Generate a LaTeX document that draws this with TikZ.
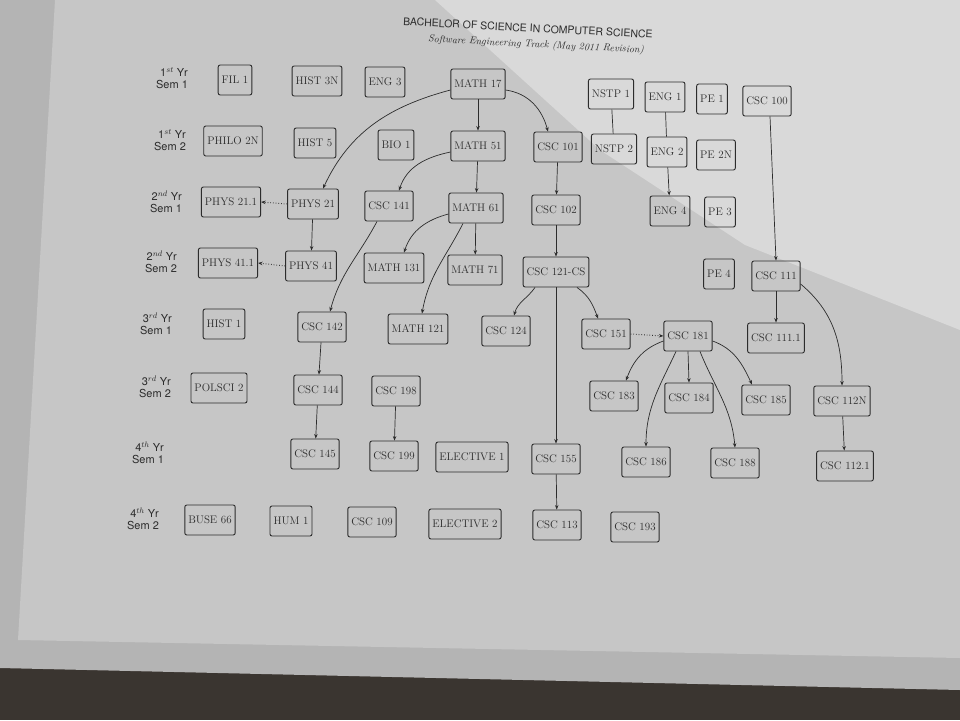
\documentclass[tikz,border=0pt]{standalone}
\usepackage{fontspec}
\newfontfamily\headfont{TeX Gyre Heros}
\usetikzlibrary{arrows.meta}
\definecolor{ink}{HTML}{2C2C2C}
\definecolor{paper}{HTML}{C6C6C6}
\definecolor{paperlit}{HTML}{D9D9D9}
\definecolor{sheet}{HTML}{B4B4B4}
\definecolor{table}{HTML}{3A3530}
\begin{document}
\begin{tikzpicture}[x=1pt,y=1pt,
  course/.style={draw=ink, line width=0.9pt, rounded corners=2pt, text=ink,
    font=\fontsize{11}{13}\selectfont, inner xsep=3.5pt, inner ysep=0pt, minimum height=30pt},
  lab/.style={font=\headfont\fontsize{11}{11.5}\selectfont, align=right, text=ink},
  pre/.style={draw=ink, line width=0.7pt, -{Stealth[length=4.5pt,width=3.5pt]}},
  coreq/.style={pre, dotted, line width=1pt},
  plainlink/.style={draw=ink, line width=0.7pt}]
% background
\useasboundingbox (0,0) rectangle (960,-720);
\fill[table] (0,0) rectangle (960,-720);
\fill[sheet] (0,0) -- (960,0) -- (960,-690) -- (0,-668) -- cycle;
\fill[paper] (55,0) -- (960,0) -- (960,-658) -- (18,-640) -- cycle;
\fill[paperlit] (435,0) -- (960,0) -- (960,-330) -- (745,-245) -- (600,-150) -- cycle;

% title
\node[font=\headfont\fontsize{10.5}{12}\selectfont, text=ink, rotate=-3] (title) at (528,-28)
  {BACHELOR OF SCIENCE IN COMPUTER SCIENCE};
\node[font=\itshape\fontsize{10}{12}\selectfont, text=ink, rotate=-3] (subtitle) at (536,-45)
  {Software Engineering Track (May 2011 Revision)};

% row labels
\node[lab] (r1) at (172,-78)  {1$^{st}$ Yr\\Sem 1};
\node[lab] (r2) at (170,-140) {1$^{st}$ Yr\\Sem 2};
\node[lab] (r3) at (166,-202) {2$^{nd}$ Yr\\Sem 1};
\node[lab] (r4) at (161,-262) {2$^{nd}$ Yr\\Sem 2};
\node[lab] (r5) at (156,-324) {3$^{rd}$ Yr\\Sem 1};
\node[lab] (r6) at (155,-387) {3$^{rd}$ Yr\\Sem 2};
\node[lab] (r7) at (148,-453) {4$^{th}$ Yr\\Sem 1};
\node[lab] (r8) at (143,-519) {4$^{th}$ Yr\\Sem 2};

% row 1
\node[course] (fil1)   at (235,-80)  {FIL 1};
\node[course] (hist3n) at (317,-81)  {HIST 3N};
\node[course] (eng3)   at (385,-82)  {ENG 3};
\node[course] (m17)    at (478,-84)  {MATH 17};
\node[course] (nstp1)  at (611,-94)  {NSTP 1};
\node[course] (eng1)   at (665,-97)  {ENG 1};
\node[course] (pe1)    at (712,-99)  {PE 1};
\node[course] (c100)   at (767,-101) {CSC 100};
% row 2
\node[course] (philo)  at (233,-141) {PHILO 2N};
\node[course] (hist5)  at (315,-143) {HIST 5};
\node[course] (bio1)   at (396,-145) {BIO 1};
\node[course] (m51)    at (478,-146) {MATH 51};
\node[course] (c101)   at (558,-147) {CSC 101};
\node[course] (nstp2)  at (614,-149) {NSTP 2};
\node[course] (eng2)   at (667,-152) {ENG 2};
\node[course] (pe2n)   at (716,-155) {PE 2N};
% row 3
\node[course] (p211)   at (231,-202) {PHYS 21.1};
\node[course] (p21)    at (313,-204) {PHYS 21};
\node[course] (c141)   at (389,-206) {CSC 141};
\node[course] (m61)    at (476,-208) {MATH 61};
\node[course] (c102)   at (556,-210) {CSC 102};
\node[course] (eng4)   at (670,-211) {ENG 4};
\node[course] (pe3)    at (720,-212) {PE 3};
% row 4
\node[course] (p411)   at (228,-263) {PHYS 41.1};
\node[course] (p41)    at (311,-266) {PHYS 41};
\node[course] (m131)   at (394,-268) {MATH 131};
\node[course] (m71)    at (475,-270) {MATH 71};
\node[course] (c121)   at (556,-272) {CSC 121-CS};
\node[course] (pe4)    at (719,-274) {PE 4};
\node[course] (c111)   at (776,-276) {CSC 111};
% row 5
\node[course] (hist1)  at (224,-324) {HIST 1};
\node[course] (c142)   at (322,-327) {CSC 142};
\node[course] (m121)   at (418,-329) {MATH 121};
\node[course] (c124)   at (506,-331) {CSC 124};
\node[course] (c151)   at (606,-334) {CSC 151};
\node[course] (c181)   at (688,-336) {CSC 181};
\node[course] (c1111)  at (776,-338) {CSC 111.1};
% row 6
\node[course] (polsci) at (219,-388) {POLSCI 2};
\node[course] (c144)   at (318,-390) {CSC 144};
\node[course] (c198)   at (396,-391) {CSC 198};
\node[course] (c183)   at (614,-396) {CSC 183};
\node[course] (c184)   at (689,-398) {CSC 184};
\node[course] (c185)   at (766,-400) {CSC 185};
\node[course] (c112n)  at (842,-401) {CSC 112N};
% row 7
\node[course] (c145)   at (315,-454) {CSC 145};
\node[course] (c199)   at (394,-456) {CSC 199};
\node[course] (el1)    at (472,-457) {ELECTIVE 1};
\node[course] (c155)   at (556,-459) {CSC 155};
\node[course] (c186)   at (646,-462) {CSC 186};
\node[course] (c188)   at (735,-463) {CSC 188};
\node[course] (c1121)  at (845,-466) {CSC 112.1};
% row 8
\node[course] (buse)   at (210,-520) {BUSE 66};
\node[course] (hum1)   at (291,-521) {HUM 1};
\node[course] (c109)   at (372,-522) {CSC 109};
\node[course] (el2)    at (465,-524) {ELECTIVE 2};
\node[course] (c113)   at (557,-525) {CSC 113};
\node[course] (c193)   at (635,-527) {CSC 193};

% math chain
\draw[pre] (m17) -- (m51);
\draw[pre] (m51) -- (m61);
\draw[pre] (m61) -- (m71);
\draw[pre] ([yshift=-6pt]m17.west) to[out=195,in=65] ([xshift=10pt]p21.north);
\draw[pre] ([yshift=-6pt]m17.east) to[out=-8,in=105] ([xshift=-10pt]c101.north);
\draw[pre] ([yshift=-6pt]m51.west) to[out=192,in=72] ([xshift=10pt]c141.north);
\draw[pre] ([yshift=-6pt]m61.west) to[out=195,in=72] ([xshift=10pt]m131.north);
\draw[pre] ([xshift=-13pt]m61.south) to[out=243,in=80] ([xshift=4pt]m121.north);
\draw[pre] ([xshift=-12pt]c141.south) to[out=242,in=75] ([xshift=8pt]c142.north);
% physics
\draw[pre] (p21) -- (p41);
\draw[coreq] (p21.west) -- (p211.east);
\draw[coreq] (p41.west) -- (p411.east);
% CSC main chain
\draw[pre] (c101) -- (c102);
\draw[pre] (c102) -- (c121);
\draw[pre] (c121) -- (c155);
\draw[pre] (c155) -- (c113);
\draw[pre] ([xshift=-21pt]c121.south) to[out=235,in=75] ([xshift=8pt]c124.north);
\draw[pre] ([xshift=21pt]c121.south) to[out=-35,in=110] ([xshift=-8pt]c151.north);
\draw[coreq] (c151.east) -- (c181.west);
% CSC 181 fan
\draw[pre] ([yshift=-5pt]c181.west) to[out=200,in=70] ([xshift=12pt]c183.north);
\draw[pre] ([xshift=-12pt]c181.south) to[out=245,in=90] (c186.north);
\draw[pre] (c181.south) -- (c184.north);
\draw[pre] ([xshift=12pt]c181.south) to[out=-68,in=95] (c188.north);
\draw[pre] ([yshift=-5pt]c181.east) to[out=-20,in=115] ([xshift=-14pt]c185.north);
% CSC 142 chain
\draw[pre] (c142) -- (c144);
\draw[pre] (c144) -- (c145);
\draw[pre] (c198) -- (c199);
% right side
\draw[plainlink] (nstp1) -- (nstp2);
\draw[plainlink] (eng1) -- (eng2);
\draw[pre] (eng2) -- (eng4);
\draw[pre] ([xshift=3pt]c100.south) -- (c111.north);
\draw[pre] (c111) -- (c1111);
\draw[pre] ([yshift=-8pt]c111.east) to[out=-40,in=90] (c112n.north);
\draw[pre] (c112n) -- (c1121);
\end{tikzpicture}
\end{document}
